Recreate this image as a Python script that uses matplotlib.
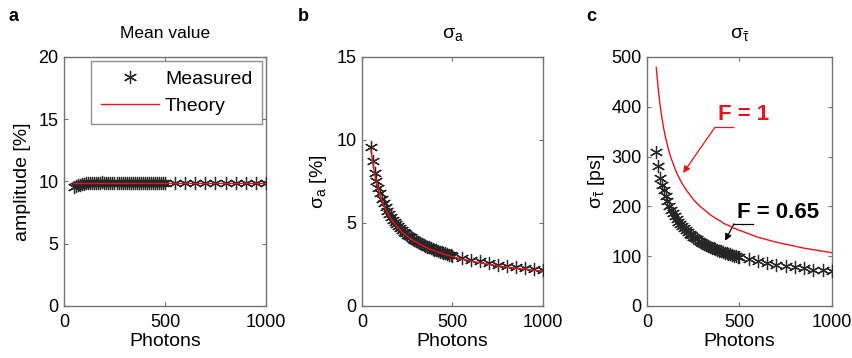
import numpy as np
import matplotlib
matplotlib.use("Agg")
import matplotlib.pyplot as plt

plt.rcParams["font.family"] = ["Liberation Sans", "DejaVu Sans"]
plt.rcParams["mathtext.fontset"] = "custom"
plt.rcParams["mathtext.rm"] = "Liberation Sans"
plt.rcParams["mathtext.it"] = "Liberation Sans"

# ── Data ─────────────────────────────────────────────────────────────
photons = [50, 60, 70, 80, 90, 100, 110, 120, 130, 140, 150, 160, 170, 180,
           190, 200, 210, 220, 230, 240, 250, 260, 270, 280, 290, 300, 310,
           320, 330, 340, 350, 360, 370, 380, 390, 400, 410, 420, 430, 440,
           450, 460, 470, 480, 490, 500, 550, 600, 650, 700, 750, 800, 850,
           900, 950, 1000]

amp_measured = [9.55, 9.62, 9.68, 9.74, 9.78, 9.82, 9.85, 9.87, 9.88, 9.90,
                9.90, 9.91, 9.89, 9.91, 9.92, 9.90, 9.89, 9.90, 9.91, 9.90,
                9.89, 9.90, 9.91, 9.90, 9.90, 9.89, 9.90, 9.91, 9.90, 9.90,
                9.91, 9.90, 9.89, 9.90, 9.91, 9.90, 9.90, 9.91, 9.90, 9.89,
                9.90, 9.91, 9.90, 9.90, 9.91, 9.90, 9.89, 9.91, 9.90, 9.90,
                9.89, 9.90, 9.91, 9.90, 9.89, 9.90]
amp_theory = 9.85

sa_measured = [9.60, 8.75, 8.02, 7.55, 7.12, 6.78, 6.45, 6.18, 5.95, 5.74,
               5.55, 5.38, 5.20, 5.07, 4.93, 4.80, 4.69, 4.58, 4.48, 4.38,
               4.30, 4.21, 4.13, 4.06, 3.99, 3.92, 3.86, 3.80, 3.74, 3.69,
               3.63, 3.58, 3.53, 3.49, 3.44, 3.40, 3.36, 3.32, 3.28, 3.24,
               3.20, 3.17, 3.14, 3.10, 3.07, 3.04, 2.92, 2.79, 2.68, 2.58,
               2.49, 2.41, 2.34, 2.27, 2.21, 2.16]
sa_theory = [9.40, 8.59, 7.95, 7.43, 7.01, 6.65, 6.34, 6.07, 5.83, 5.62,
             5.43, 5.26, 5.10, 4.96, 4.82, 4.70, 4.59, 4.48, 4.39, 4.29,
             4.21, 4.12, 4.05, 3.97, 3.90, 3.84, 3.78, 3.72, 3.66, 3.61,
             3.55, 3.50, 3.46, 3.41, 3.37, 3.33, 3.28, 3.25, 3.21, 3.17,
             3.13, 3.10, 3.07, 3.04, 3.00, 2.97, 2.84, 2.71, 2.61, 2.51,
             2.43, 2.35, 2.28, 2.22, 2.16, 2.10]

st_measured = [310, 282, 258, 243, 232, 221, 210, 201, 193, 186, 180, 174,
               169, 164, 160, 156, 152, 148, 145, 142, 139, 136, 134, 131,
               129, 127, 125, 123, 121, 119, 117, 116, 114, 113, 111, 110,
               108, 107, 106, 105, 104, 102, 101, 100, 99, 98, 94, 90, 86,
               83, 80, 78, 76, 73, 72, 70]
st_theory = [479, 438, 405, 379, 357, 339, 323, 309, 297, 287, 277, 268,
             260, 253, 246, 240, 234, 229, 224, 219, 214, 210, 206, 203,
             199, 196, 193, 190, 187, 184, 181, 179, 176, 174, 172, 170,
             167, 165, 163, 162, 160, 158, 156, 155, 153, 152, 145, 138,
             133, 128, 124, 120, 116, 113, 110, 107]

_RED = "#e8141c"
_MARK = "0.15"
_AXC = "0.45"
_STAR = (6, 2, 0)


def _style_ax(ax, ymax, ystep):
    ax.set_xlim(0, 1000)
    ax.set_ylim(0, ymax)
    ax.set_xticks([0, 500, 1000])
    ax.set_yticks(np.arange(0, ymax + 1, ystep))
    ax.tick_params(direction="in", length=3, width=0.8, color=_AXC,
                   labelsize=13, top=True, right=True)
    ax.tick_params(axis="x", pad=6)
    ax.tick_params(axis="y", pad=4)
    for spine in ax.spines.values():
        spine.set_color(_AXC)
        spine.set_linewidth(1.0)
    ax.set_xlabel("Photons", fontsize=14, labelpad=1)


def _measured(ax, y):
    ax.plot(photons, y, linestyle="none", marker=_STAR, markersize=9.5,
            color=_MARK, markeredgewidth=0.9, label="Measured", zorder=3)


fig = plt.figure(figsize=(8.52, 3.58), dpi=100)
bottom, height = 0.1453, 0.6955

# ── panel a ──
ax = fig.add_axes([0.0751, bottom, 0.2371, height])
_measured(ax, amp_measured)
ax.plot(photons, [amp_theory] * len(photons), color=_RED, lw=1.0,
        label="Theory", zorder=4)
_style_ax(ax, 20, 5)
ax.set_ylabel("amplitude [%]", fontsize=14, labelpad=5)
ax.set_title("Mean value", fontsize=12.5, pad=14)
leg = ax.legend(loc="upper right", fontsize=14, frameon=True, fancybox=False,
                handlelength=3.0, borderaxespad=0.2, borderpad=0.5,
                labelspacing=0.45, handletextpad=0.3)
leg.get_frame().set_edgecolor(_AXC)
leg.get_frame().set_linewidth(1.0)

# ── panel b ──
ax = fig.add_axes([0.4249, bottom, 0.2124, height])
_measured(ax, sa_measured)
ax.plot(photons, sa_theory, color=_RED, lw=1.0, zorder=4)
_style_ax(ax, 15, 5)
ax.set_ylabel(r"$\mathrm{\sigma_a}$ [%]", fontsize=14, labelpad=5)
ax.set_title(r"$\mathrm{\sigma_a}$", fontsize=14, pad=14)

# ── panel c ──
ax = fig.add_axes([0.7594, bottom, 0.2171, height])
_measured(ax, st_measured)
ax.plot(photons, st_theory, color=_RED, lw=1.0, zorder=4)
_style_ax(ax, 500, 100)
ax.set_ylabel(r"$\mathrm{\sigma_{\bar{\tau}}}$ [ps]", fontsize=14, labelpad=3)
ax.set_title(r"$\mathrm{\sigma_{\bar{\tau}}}$", fontsize=14, pad=14)

ax.text(384, 385, "F = 1", color=_RED, fontsize=16, fontweight="bold",
        ha="left", va="center")
ax.plot([368, 465], [359, 359], color=_RED, lw=0.9)
ax.annotate("", xy=(195, 267), xytext=(368, 359),
            arrowprops=dict(arrowstyle="-|>", color=_RED, lw=0.9,
                            mutation_scale=10, shrinkA=0, shrinkB=0))

ax.text(486, 187, "F = 0.65", color="black", fontsize=16, fontweight="bold",
        ha="left", va="center")
ax.plot([470, 573], [165, 165], color="black", lw=0.9)
ax.annotate("", xy=(422, 131), xytext=(470, 165),
            arrowprops=dict(arrowstyle="-|>", color="black", lw=0.9,
                            mutation_scale=10, shrinkA=0, shrinkB=0))

# panel letters
for x, letter in [(0.010, "a"), (0.350, "b"), (0.688, "c")]:
    fig.text(x, 0.955, letter, fontsize=13, fontweight="bold", va="center")

fig.savefig("out.png", dpi=100)
